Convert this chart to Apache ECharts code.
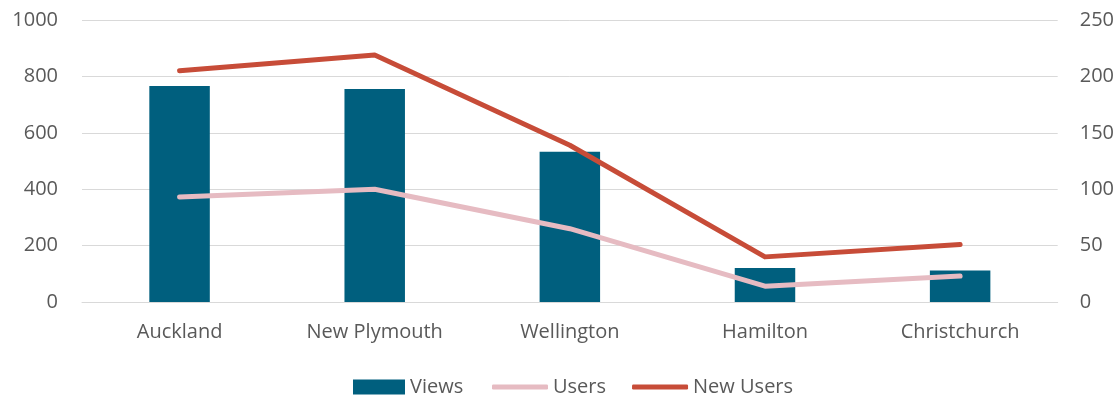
<!DOCTYPE html>
<html>
<head>
<meta charset="utf-8">
<style>
  html, body { margin: 0; padding: 0; background: #ffffff; }
  #chart { width: 1117px; height: 395px; }
</style>
<script src="https://cdn.jsdelivr.net/npm/echarts@6/dist/echarts.min.js"></script>
</head>
<body>
<div id="chart"></div>
<script>
// Site traffic by city: page views (left axis) with users and new users (right axis)
const cities = ['Auckland', 'New Plymouth', 'Wellington', 'Hamilton', 'Christchurch'];
const views = [766, 755, 533, 121, 112];
const users = [93, 100, 65, 14, 23];
const newUsers = [205, 219, 139, 40, 51];

const leftTicks = { min: 0, max: 1000, interval: 200 };
const rightTicks = { min: 0, max: 250, interval: 50 };

const FONT = '"Open Sans", sans-serif';
const TEXT = '#595959';
const GRID = '#d9d9d9';
const C_VIEWS = '#005f7e';
const C_USERS = '#e6bbc2';
const C_NEW = '#c74c38';

const plain = v => String(v);

const chart = echarts.init(document.getElementById('chart'), null, { renderer: 'canvas' });

chart.setOption({
  backgroundColor: '#ffffff',
  animation: false,
  textStyle: { fontFamily: FONT },
  grid: { left: 82, right: 58, top: 20, bottom: 93, containLabel: false },
  legend: [
    {
      data: [{ name: 'Views', icon: 'rect' }],
      left: 348, top: 372,
      itemWidth: 52, itemHeight: 15, itemGap: 26,
      textStyle: { color: TEXT, fontSize: 20, fontFamily: FONT, lineHeight: 15 }
    },
    {
      data: [{ name: 'Users', icon: 'roundRect' }, { name: 'New Users', icon: 'roundRect' }],
      left: 487, top: 372,
      itemWidth: 56, itemHeight: 5, itemGap: 26,
      textStyle: { color: TEXT, fontSize: 20, fontFamily: FONT, lineHeight: 15 }
    }
  ],
  xAxis: {
    type: 'category',
    data: cities,
    axisLine: { show: true, lineStyle: { color: GRID, width: 1 } },
    axisTick: { show: false },
    axisLabel: { color: TEXT, fontSize: 20, fontFamily: FONT, margin: 20 }
  },
  yAxis: [
    {
      type: 'value',
      min: leftTicks.min, max: leftTicks.max, interval: leftTicks.interval,
      axisLine: { show: false },
      axisTick: { show: false },
      splitLine: { show: true, lineStyle: { color: GRID, width: 1 } },
      axisLabel: { color: TEXT, fontSize: 20, fontFamily: FONT, margin: 24, formatter: plain }
    },
    {
      type: 'value',
      position: 'right',
      min: rightTicks.min, max: rightTicks.max, interval: rightTicks.interval,
      axisLine: { show: false },
      axisTick: { show: false },
      splitLine: { show: false },
      axisLabel: { color: TEXT, fontSize: 20, fontFamily: FONT, margin: 22, formatter: plain }
    }
  ],
  series: [
    {
      name: 'Views',
      type: 'bar',
      yAxisIndex: 0,
      data: views,
      barWidth: '31%',
      itemStyle: { color: C_VIEWS }
    },
    {
      name: 'Users',
      type: 'line',
      yAxisIndex: 1,
      data: users,
      symbol: 'none',
      itemStyle: { color: C_USERS },
      lineStyle: { color: C_USERS, width: 5, cap: 'round', join: 'round' },
      z: 3
    },
    {
      name: 'New Users',
      type: 'line',
      yAxisIndex: 1,
      data: newUsers,
      symbol: 'none',
      itemStyle: { color: C_NEW },
      lineStyle: { color: C_NEW, width: 5, cap: 'round', join: 'round' },
      z: 4
    }
  ]
});
</script>
</body>
</html>
